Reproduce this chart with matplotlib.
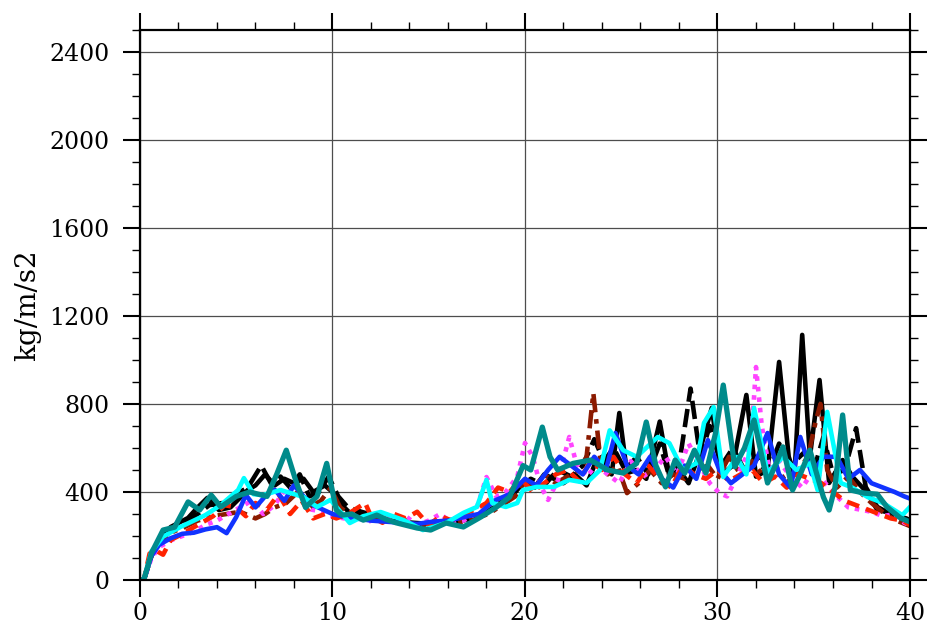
import matplotlib
matplotlib.use("Agg")
import matplotlib.pyplot as plt
from matplotlib.ticker import MultipleLocator

plt.rcParams['font.family'] = ['DejaVu Serif']

# series: (time, value) pairs per run
t_black = [0, 0.2, 0.6, 1.0, 1.6, 2.5, 3.0, 3.5, 4.1, 4.7, 5.6, 6.0, 6.5, 7.0, 7.5, 8.0, 8.5, 9.0, 9.6,
           10.0, 10.5, 10.9, 11.5, 12.0, 12.8, 13.5, 14.2, 15.0, 15.8, 16.5, 17.3, 18.0, 18.8, 19.5,
           20.0, 20.5, 21.0, 21.5, 22.0, 22.6, 23.2, 23.6, 24.0, 24.5, 24.9, 25.3, 25.8, 26.3, 27.0,
           27.5, 28.0, 28.5, 29.0, 29.7, 30.2, 30.8, 31.5, 32.0, 32.6, 33.2, 33.7, 34.0, 34.4, 34.8,
           35.3, 35.8, 36.5, 37.0, 37.8, 38.3, 39.0, 40]
v_black = [0, 0, 120, 180, 241, 282, 330, 373, 318, 330, 409, 430, 480, 430, 460, 440, 460, 400, 430,
           400, 340, 305, 300, 290, 270, 265, 260, 255, 265, 270, 280, 310, 350, 400,
           450, 420, 480, 460, 440, 480, 430, 520, 560, 480, 759, 486, 500, 460, 720,
           470, 500, 440, 560, 782, 480, 520, 841, 470, 500, 991, 560, 480, 1114, 560,
           909, 441, 545, 470, 395, 318, 305, 273]

t_blackdash = [0, 0.2, 0.6, 1.0, 1.6, 2.3, 3.0, 3.6, 4.3, 5.0, 5.6, 6.3, 6.8, 7.3, 7.8, 8.3, 8.8, 9.3,
               9.8, 10.3, 10.8, 11.5, 12.3, 13.0, 13.8, 14.5, 15.3, 16.0, 16.8, 17.5, 18.3, 19.0,
               19.7, 20.3, 21.0, 21.7, 22.4, 23.0, 23.6, 24.1, 24.6, 25.2, 25.8, 26.4, 27.0, 27.5,
               28.0, 28.6, 29.1, 29.6, 30.2, 30.8, 31.4, 32.0, 32.6, 33.2, 33.8, 34.5, 35.0, 35.5,
               36.0, 36.6, 37.2, 37.7, 38.3, 39.0, 40]
v_blackdash = [0, 0, 110, 170, 225, 260, 300, 340, 350, 390, 420, 520, 440, 470, 420, 480, 380, 400,
               470, 380, 330, 310, 290, 270, 255, 250, 265, 260, 270, 290, 320, 380,
               420, 460, 430, 500, 470, 520, 640, 540, 600, 500, 560, 480, 620, 470,
               520, 870, 560, 700, 520, 600, 500, 560, 480, 620, 520, 580, 500, 650,
               480, 500, 690, 423, 332, 300, 273]

t_maroon = [0, 0.2, 0.6, 1.0, 1.6, 2.3, 3.0, 3.8, 4.5, 5.2, 6.0, 6.5, 7.0, 7.6, 8.2, 8.8, 9.4, 9.9,
            10.4, 11.0, 11.7, 12.4, 13.1, 13.8, 14.6, 15.3, 16.0, 16.7, 17.4, 18.1, 18.8, 19.5,
            20.0, 20.5, 21.0, 21.6, 22.2, 22.8, 23.2, 23.55, 23.9, 24.3, 24.8, 25.3, 25.9, 26.5,
            27.1, 27.7, 28.3, 28.9, 29.5, 30.0, 30.6, 31.2, 31.8, 32.4, 33.0, 33.6, 34.2, 34.7,
            35.1, 35.35, 35.7, 36.2, 36.8, 37.4, 38.0, 38.7, 39.3, 40]
v_maroon = [0, 0, 110, 170, 215, 240, 270, 290, 300, 310, 280, 300, 330, 350, 400, 330, 360, 418,
            330, 290, 285, 270, 270, 260, 250, 255, 260, 265, 280, 300, 340, 380,
            450, 420, 480, 440, 470, 500, 560, 850, 560, 480, 520, 395, 440, 500,
            440, 480, 460, 500, 520, 460, 560, 480, 540, 470, 520, 440, 500, 560,
            720, 800, 500, 420, 470, 400, 350, 300, 270, 245]

t_magenta = [0, 0.2, 0.6, 1.0, 1.6, 2.2, 2.8, 3.4, 4.0, 4.6, 5.2, 5.8, 6.4, 7.0, 7.6, 8.3, 8.9, 9.5,
             10.0, 10.6, 11.2, 11.8, 12.5, 13.2, 13.8, 14.4, 15.0, 15.6, 16.2, 16.8, 17.4, 18.0,
             18.5, 19.0, 19.6, 20.0, 20.4, 20.8, 21.2, 21.7, 22.3, 22.7, 23.2, 23.7, 24.3, 24.9,
             25.5, 26.1, 26.7, 27.3, 27.9, 28.5, 29.1, 29.6, 30.1, 30.5, 31.0, 31.5, 31.8, 32.0,
             32.3, 32.7, 33.2, 33.8, 34.4, 35.0, 35.6, 36.2, 36.8, 37.4, 38.0, 38.6, 39.2, 39.7, 40]
v_magenta = [0, 0, 100, 150, 180, 200, 220, 250, 270, 300, 330, 360, 300, 340, 420, 400, 320, 310,
             290, 280, 300, 260, 300, 280, 290, 250, 270, 300, 260, 270, 300, 468,
             380, 400, 470, 623, 560, 430, 364, 450, 650, 520, 470, 520, 480, 440,
             540, 470, 500, 560, 480, 620, 520, 440, 395, 380, 470, 560, 700, 968,
             700, 500, 540, 470, 420, 500, 440, 380, 330, 320, 310, 290, 300, 260, 250]

t_red = [0, 0.2, 0.5, 0.8, 1.2, 1.6, 2.0, 2.6, 3.2, 3.8, 4.4, 5.0, 5.5, 6.0, 6.6, 7.2, 7.8, 8.4, 9.0,
         9.6, 10.2, 10.8, 11.7, 12.0, 12.6, 13.2, 13.8, 14.4, 15.0, 15.6, 16.2, 16.8, 17.4, 18.0,
         18.6, 19.2, 19.8, 20.4, 21.0, 21.6, 22.2, 22.8, 23.4, 24.0, 24.6, 25.2, 25.8, 26.4, 27.0,
         27.6, 28.2, 28.8, 29.4, 30.0, 30.6, 31.2, 31.8, 32.4, 33.0, 33.6, 34.2, 34.8, 35.4, 36.0,
         36.6, 37.2, 37.8, 38.4, 39.0, 39.6, 40]
v_red = [0, 0, 120, 135, 115, 182, 200, 230, 260, 290, 340, 330, 290, 350, 320, 390, 300, 360, 280,
         300, 280, 300, 350, 290, 260, 300, 280, 310, 250, 290, 270, 300, 320, 350,
         420, 400, 460, 400, 440, 480, 500, 450, 540, 500, 560, 480, 440, 520, 460,
         420, 520, 480, 460, 500, 450, 480, 500, 440, 470, 420, 480, 460, 440, 400,
         360, 340, 320, 300, 280, 270, 250]

t_blue = [0, 0.2, 0.6, 1.0, 1.6, 2.2, 2.8, 3.4, 4.0, 4.5, 5.0, 5.5, 6.0, 6.5, 7.0, 7.5, 8.0, 8.5,
          9.0, 9.5, 10.0, 10.5, 11.2, 12.0, 12.8, 13.6, 14.4, 15.2, 16.0, 16.8, 17.6, 18.4, 19.2,
          20.0, 20.6, 21.2, 21.8, 22.4, 23.0, 23.6, 24.2, 24.7, 25.3, 25.9, 26.5, 27.1, 27.7,
          28.3, 28.9, 29.5, 30.1, 30.7, 31.3, 31.9, 32.6, 33.2, 33.8, 34.3, 34.9, 35.5, 36.2,
          36.8, 37.4, 38.0, 38.6, 39.2, 39.7, 40]
v_blue = [0, 0, 110, 160, 190, 210, 215, 230, 240, 213, 286, 386, 330, 380, 410, 360, 430, 380,
          340, 320, 300, 290, 280, 270, 265, 260, 255, 265, 270, 285, 300, 360, 390,
          460, 430, 500, 560, 520, 480, 560, 500, 668, 520, 480, 560, 460, 420,
          520, 460, 636, 500, 440, 480, 520, 668, 480, 420, 650, 480, 560, 560,
          460, 500, 440, 420, 400, 380, 370]

t_cyan = [0, 0.2, 0.6, 1.2, 2.1, 3.4, 4.2, 5.1, 5.4, 5.9, 6.4, 7.3, 8.5, 9.2, 9.9, 10.9, 11.6, 12.5,
          13.7, 14.7, 15.9, 16.8, 17.5, 18.0, 18.3, 19.0, 19.6, 19.9, 20.6, 21.5, 22.3, 23.2, 23.9,
          24.4, 25.1, 25.8, 26.9, 27.5, 28.2, 28.9, 29.3, 29.8, 30.3, 31.0, 31.5, 31.9, 32.6, 33.4,
          34.1, 34.8, 35.2, 35.7, 36.4, 37.0, 37.8, 38.6, 39.6, 40]
v_cyan = [0, 0, 130, 197, 241, 295, 341, 409, 463, 390, 386, 409, 377, 332, 364, 259, 290, 309,
          272, 227, 259, 305, 332, 455, 350, 332, 350, 409, 423, 423, 455, 441, 500,
          680, 590, 560, 650, 622, 500, 530, 714, 786, 468, 559, 480, 782, 486, 560,
          500, 530, 409, 764, 441, 420, 377, 350, 295, 332]

t_teal = [0, 0.2, 0.6, 1.2, 1.8, 2.5, 3.1, 3.7, 4.2, 5.0, 5.7, 6.6, 7.1, 7.6, 8.1, 8.6, 9.2, 9.7,
          10.2, 10.5, 11.0, 11.6, 12.3, 12.8, 13.3, 14.4, 15.1, 15.9, 16.8, 17.7, 18.5, 19.2, 19.9,
          20.3, 20.9, 21.3, 21.7, 22.5, 23.4, 24.3, 25.1, 25.8, 26.3, 26.8, 27.3, 27.8, 28.3, 28.8,
          29.4, 29.9, 30.3, 30.9, 31.4, 31.9, 32.6, 33.0, 33.4, 33.9, 34.3, 34.8, 35.5, 35.8, 36.1,
          36.5, 36.9, 37.6, 38.3, 38.8, 39.5, 40]
v_teal = [0, 0, 123, 227, 240, 355, 318, 386, 332, 380, 400, 380, 480, 590, 450, 330, 380, 530,
          318, 295, 300, 272, 295, 275, 260, 236, 227, 259, 241, 286, 330, 377, 520,
          500, 695, 560, 500, 530, 545, 500, 486, 530, 718, 520, 423, 545, 486, 590,
          486, 668, 886, 515, 600, 727, 441, 520, 605, 409, 480, 590, 377, 318, 420,
          750, 409, 395, 390, 332, 282, 264]

series = [
    (t_black, v_black, 'black', '-', 3.3),
    (t_blackdash, v_blackdash, 'black', (0, (4, 1.6)), 3.3),
    (t_maroon, v_maroon, '#8b1a00', (0, (4, 1.5, 1, 1.5)), 3.3),
    (t_magenta, v_magenta, '#ff44ff', (0, (1, 1.3)), 3.3),
    (t_red, v_red, '#ff2200', (0, (2.8, 1.6)), 3.3),
    (t_blue, v_blue, '#1133ff', '-', 3.3),
    (t_cyan, v_cyan, '#00ffff', '-', 3.3),
    (t_teal, v_teal, '#008b8b', '-', 3.8),
]

fig = plt.figure(figsize=(9.3, 6.34), dpi=100)
ax = fig.add_axes([0.1505, 0.0852, 0.828, 0.8675])

for t, v, c, ls, lw in series:
    ax.plot(t, v, color=c, linestyle=ls, linewidth=lw, solid_joinstyle='round')

ax.set_xlim(0, 40)
ax.set_ylim(0, 2500)
ax.xaxis.set_major_locator(MultipleLocator(10))
ax.xaxis.set_minor_locator(MultipleLocator(2))
ax.yaxis.set_major_locator(MultipleLocator(400))
ax.yaxis.set_minor_locator(MultipleLocator(100))
ax.grid(True, which='major', color='0.3', linewidth=0.9)
ax.set_axisbelow(True)

for s in ax.spines.values():
    s.set_linewidth(1.6)
ax.tick_params(which='both', direction='out', top=True, right=True, labelsize=17)
ax.tick_params(which='major', length=12, width=1.5)
ax.tick_params(axis='y', which='major', pad=10)
ax.tick_params(axis='x', which='major', pad=4)
ax.tick_params(which='minor', length=6, width=1.0)

ax.set_ylabel('kg/m/s2', fontsize=20, labelpad=6)

fig.savefig('out.png', dpi=100)
